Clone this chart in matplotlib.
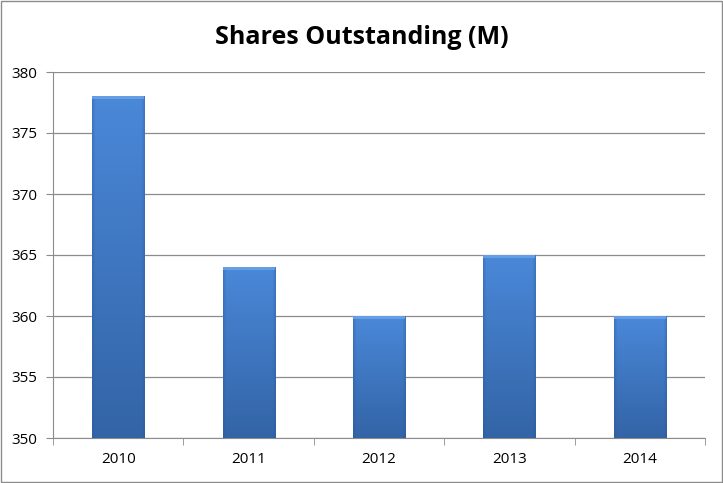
import numpy as np
import matplotlib.pyplot as plt
from matplotlib.colors import LinearSegmentedColormap
from matplotlib.patches import Rectangle

# values
years = ["2010", "2011", "2012", "2013", "2014"]
shares = [378, 364, 360, 365, 360]
y_ticks = [350, 355, 360, 365, 370, 375, 380]

plt.rcParams["font.family"] = ["Open Sans", "DejaVu Sans"]

fig = plt.figure(figsize=(7.23, 4.83), dpi=100)
ax = fig.add_axes([53 / 723, 45 / 483, 652 / 723, 366 / 483])

x = np.arange(len(years))
bars = ax.bar(x, [v - 350 for v in shares], bottom=350, width=0.4,
              color="none", edgecolor="none", zorder=3)

# Excel-like shaded bars: lighter at the top, darker toward the bottom,
# with slightly darker sides
cmap = LinearSegmentedColormap.from_list("excel_blue", ["#2b5896", "#4a88d8"])
gx = np.linspace(0, 1, 80)
edge = np.clip(np.minimum(gx, 1 - gx) / 0.06, 0, 1)  # 0 at sides, 1 inside
gy = np.linspace(0, 1, 100)[:, None]
img = (0.25 + 0.75 * gy) * (0.6 + 0.4 * edge[None, :])
for b in bars:
    x0, w = b.get_x(), b.get_width()
    y0, h = b.get_y(), b.get_height()
    im = ax.imshow(img, cmap=cmap, vmin=0, vmax=1,
                   extent=[x0, x0 + w, y0, y0 + h], origin="lower",
                   aspect="auto", zorder=3, interpolation="bilinear")
    rect = Rectangle((x0, y0), w, h, transform=ax.transData, facecolor="none")
    im.set_clip_path(rect)
    # lighter bevel at top
    ax.add_patch(Rectangle((x0, y0 + h - 0.22), w, 0.22, facecolor="#6ea5ea",
                           edgecolor="none", alpha=0.8, zorder=4))

ax.set_xlim(-0.5, len(years) - 0.5)
ax.set_ylim(350, 380)
ax.set_yticks(y_ticks)
ax.set_xticks(x)
ax.set_xticklabels(years)
ax.set_xticks(np.arange(-0.5, len(years), 1), minor=True)

ax.grid(axis="y", color="#8c8c8c", linewidth=0.9, zorder=0)
ax.set_axisbelow(True)
for side in ["top", "right"]:
    ax.spines[side].set_visible(False)
ax.spines["left"].set_color("#8c8c8c")
ax.spines["bottom"].set_color("#8c8c8c")

ax.tick_params(axis="y", length=5, color="#8c8c8c", labelsize=11, pad=6)
ax.tick_params(axis="x", which="major", length=0, labelsize=11, pad=10)
ax.tick_params(axis="x", which="minor", length=5, color="#8c8c8c")

fig.text(0.5, 0.922, "Shares Outstanding (M)", ha="center", va="center",
         fontsize=18, fontweight="bold")

# chart area border
fig.add_artist(Rectangle((0.001, 0.002), 0.997, 0.995, transform=fig.transFigure,
                         facecolor="none", edgecolor="#8c8c8c", linewidth=1))

fig.savefig("out.png", dpi=100)
